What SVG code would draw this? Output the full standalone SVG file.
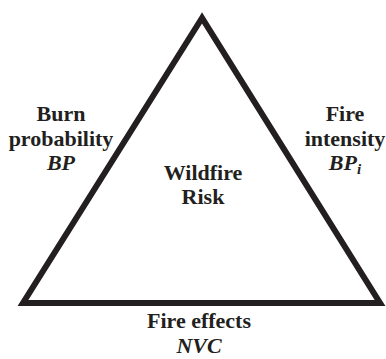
<svg xmlns="http://www.w3.org/2000/svg" width="386" height="359" viewBox="0 0 386 359">
<style>
text{font-family:"Liberation Serif","Times New Roman",serif;font-weight:bold;font-size:22px;fill:#231f20;text-anchor:middle}
.it{font-style:italic}
.tri{fill:none;stroke:#231f20;stroke-width:6;stroke-linejoin:miter;stroke-miterlimit:10}
</style>
<rect width="386" height="359" fill="#fff"/>
<g id="connectors">
<polygon class="tri" points="202,18 23,303 380,303"/>
</g>
<g id="center">
<text x="203" y="180">Wildfire</text>
<text x="203" y="204">Risk</text>
</g>
<g id="burn-probability">
<text x="61" y="121">Burn</text>
<text x="61" y="146">probability</text>
<text x="61" y="170" class="it">BP</text>
</g>
<g id="fire-intensity">
<text x="345" y="121">Fire</text>
<text x="345" y="146">intensity</text>
<text x="345" y="170" class="it">BP<tspan font-size="15" dy="4">i</tspan></text>
</g>
<g id="fire-effects">
<text x="199" y="328">Fire effects</text>
<text x="199" y="353" class="it">NVC</text>
</g>
</svg>
